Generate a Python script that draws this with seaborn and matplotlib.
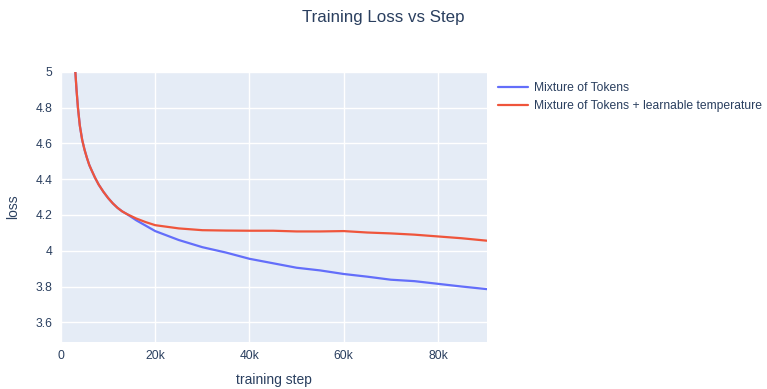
import pandas as pd
import matplotlib
matplotlib.use("Agg")
import matplotlib.pyplot as plt
import seaborn as sns
from matplotlib.ticker import FuncFormatter

# values (step in thousands)
steps_k = [3.0, 3.3, 3.6, 4.0, 4.5, 5.0, 5.5, 6.0, 6.5, 7.2, 8, 9, 10, 11, 12,
           13, 14, 16, 18, 20, 25, 30, 35, 40, 45, 50, 55, 60, 65, 70, 75, 80,
           85, 90.5]
mot_loss = [5.02, 4.90, 4.80, 4.70, 4.62, 4.565, 4.52, 4.48, 4.45, 4.41, 4.37,
            4.33, 4.295, 4.265, 4.24, 4.22, 4.205, 4.17, 4.14, 4.11, 4.06, 4.02,
            3.99, 3.955, 3.93, 3.905, 3.89, 3.87, 3.855, 3.838, 3.83, 3.815,
            3.80, 3.785]
mot_temp_loss = [5.02, 4.90, 4.80, 4.70, 4.62, 4.565, 4.52, 4.48, 4.45, 4.41,
                 4.37, 4.33, 4.295, 4.265, 4.24, 4.22, 4.205, 4.18, 4.16, 4.143,
                 4.125, 4.115, 4.113, 4.112, 4.112, 4.108, 4.108, 4.11, 4.102,
                 4.097, 4.09, 4.08, 4.07, 4.056]
series_names = ["Mixture of Tokens", "Mixture of Tokens + learnable temperature"]

df = pd.concat([
    pd.DataFrame({"step": [s * 1000 for s in steps_k], "loss": mot_loss, "run": series_names[0]}),
    pd.DataFrame({"step": [s * 1000 for s in steps_k], "loss": mot_temp_loss, "run": series_names[1]}),
])

sns.set_style("darkgrid", {"axes.facecolor": "#E5ECF6", "grid.color": "white"})
plt.rcParams["font.family"] = ["Liberation Sans", "DejaVu Sans"]
text_color = "#2a3f5f"

fig = plt.figure(figsize=(7.67, 3.89), dpi=100)
ax = fig.add_axes([0.0795, 0.121, 0.556, 0.694])
sns.lineplot(data=df, x="step", y="loss", hue="run", ax=ax,
             palette=["#636efa", "#EF553B"], linewidth=1.6)

ax.set_xlim(0, 90500)
ax.set_ylim(3.49, 5.0)
ax.set_xticks([0, 20000, 40000, 60000, 80000])
ax.xaxis.set_major_formatter(FuncFormatter(lambda v, p: "0" if v == 0 else f"{int(v/1000)}k"))
ax.set_yticks([3.6, 3.8, 4.0, 4.2, 4.4, 4.6, 4.8, 5.0])
ax.yaxis.set_major_formatter(FuncFormatter(lambda v, p: f"{v:g}"))
ax.tick_params(colors=text_color, labelsize=8.7, length=0, pad=6)
for s in ax.spines.values():
    s.set_visible(False)
ax.grid(True, color="white", linewidth=1)

ax.set_xlabel("training step", fontsize=10, color=text_color, labelpad=8)
ax.set_ylabel("loss", fontsize=10, color=text_color, labelpad=11)

fig.suptitle("Training Loss vs Step", fontsize=12.2, color=text_color, y=0.975)

handles, labels = ax.get_legend_handles_labels()
ax.legend(handles, labels, loc="upper left", bbox_to_anchor=(1.005, 0.995),
          frameon=False, fontsize=8.7, labelcolor=text_color, handlelength=2.5,
          handletextpad=0.5, borderaxespad=0.3, labelspacing=0.55)

fig.savefig("out.png", dpi=100)
